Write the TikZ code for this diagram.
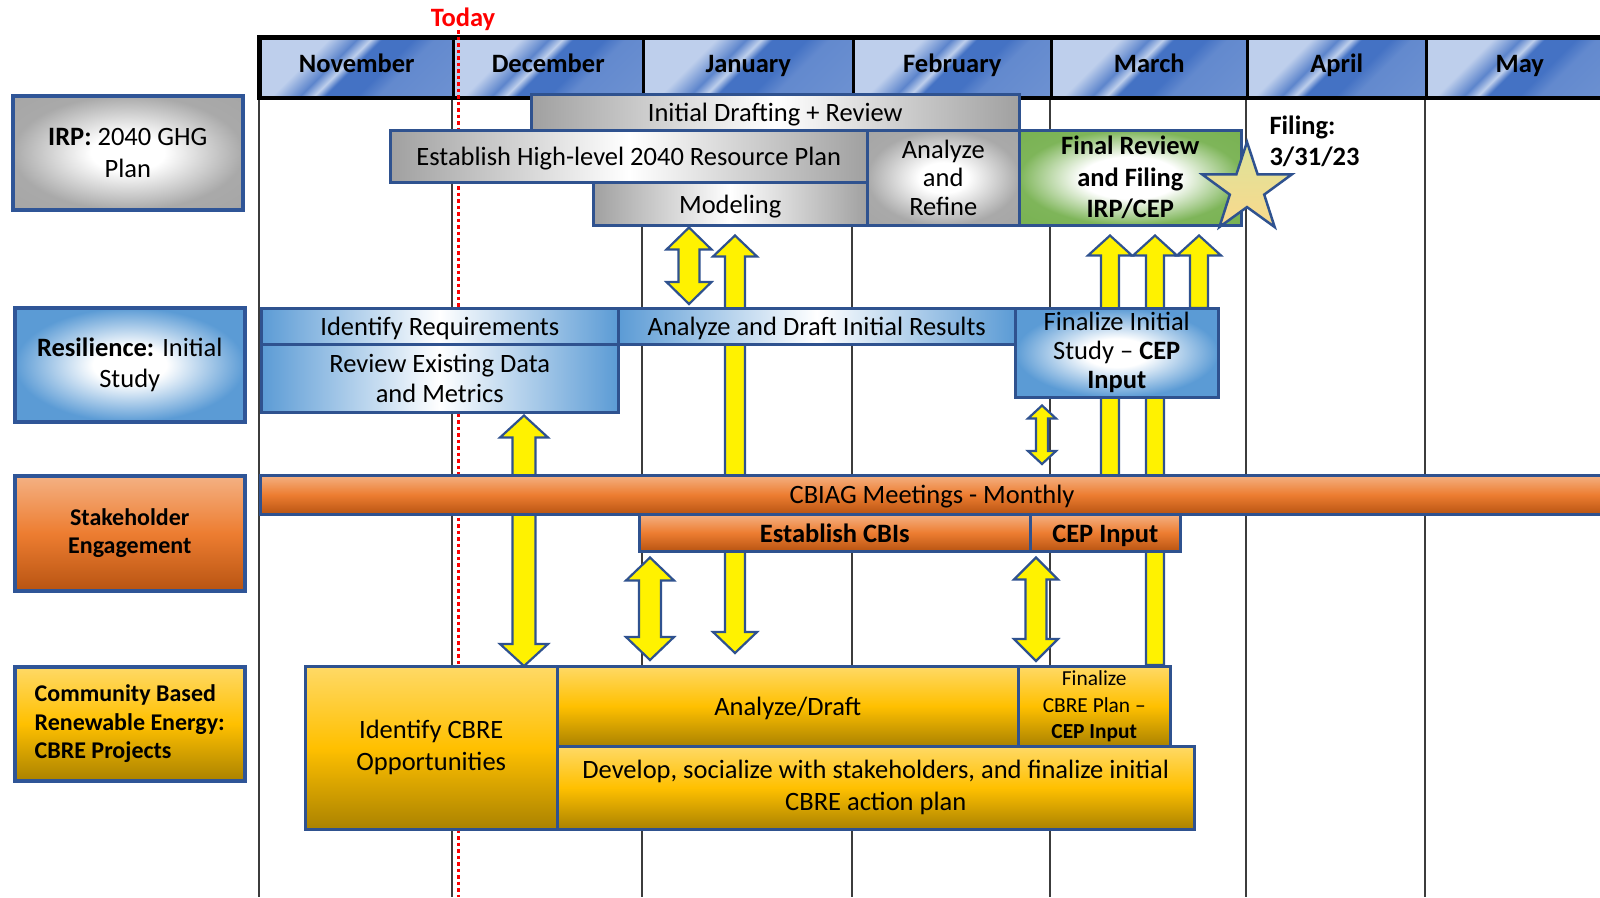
\documentclass[tikz,border=0pt]{standalone}
\usepackage{fontspec}
\setmainfont{Carlito}
\usepackage{tikz}
\usetikzlibrary{
	calc,
	positioning,
	shapes.geometric
}
\definecolor{BoxBlue}{RGB}{47,82,143}
\definecolor{LabelBlue}{RGB}{47,85,151}
\definecolor{GridGray}{RGB}{60,60,60}
\definecolor{EdgeGray}{RGB}{160,160,160}
\definecolor{EdgeBlue}{RGB}{91,155,213}
\definecolor{EdgeGreen}{RGB}{112,173,71}
\definecolor{OrangeTop}{RGB}{244,177,131}
\definecolor{OrangeMid}{RGB}{237,125,49}
\definecolor{OrangeLow}{RGB}{184,84,18}
\definecolor{GoldTop}{RGB}{255,217,102}
\definecolor{GoldMid}{RGB}{255,192,0}
\definecolor{GoldLow}{RGB}{170,130,0}
\definecolor{HdrDark}{RGB}{68,114,196}
\definecolor{HdrLight}{RGB}{190,207,236}
\definecolor{StarTop}{RGB}{220,228,154}
\definecolor{StarLow}{RGB}{250,216,140}
\definecolor{TodayRed}{RGB}{255,0,0}

% 中心白、四周着色
\pgfdeclareradialshading{glowgray}{\pgfpoint{0bp}{0bp}}{color(0bp)=(white); color(8bp)=(white); color(25bp)=(EdgeGray!90!white); color(50bp)=(EdgeGray)}
\pgfdeclareradialshading{glowblue}{\pgfpoint{0bp}{0bp}}{color(0bp)=(white); color(8bp)=(white); color(25bp)=(EdgeBlue); color(50bp)=(EdgeBlue)}
\pgfdeclareradialshading{glowgreen}{\pgfpoint{0bp}{0bp}}{color(0bp)=(white); color(11bp)=(white); color(25bp)=(EdgeGreen!90!white); color(50bp)=(EdgeGreen)}
% 表头斜向条纹
\pgfdeclarehorizontalshading{monthband}{100bp}{color(0bp)=(HdrDark!60!HdrLight); color(36bp)=(HdrDark!75!HdrLight); color(42bp)=(HdrDark); color(51bp)=(HdrDark); color(54bp)=(HdrLight); color(58bp)=(HdrDark!80!HdrLight); color(66bp)=(HdrLight); color(100bp)=(HdrLight)}

% 图层：底层网格、中层箭头、上层任务条
\pgfdeclarelayer{grid}
\pgfdeclarelayer{links}
\pgfsetlayers{grid,links,main}

\tikzset{
	bar/.style={draw=BoxBlue, line width=2.5pt, inner sep=1pt, align=center, anchor=north west, font=\fontsize{26.5}{30}\selectfont},
	oneline/.style={text height=19pt, text depth=0pt},
	graybar/.style={bar, left color=EdgeGray, right color=EdgeGray, middle color=white},
	graypatch/.style={bar, shade, shading=glowgray},
	bluebar/.style={bar, left color=EdgeBlue, right color=EdgeBlue, middle color=white},
	bluepatch/.style={bar, shade, shading=glowblue},
	greenpatch/.style={bar, shade, shading=glowgreen},
	orangebar/.style={bar, top color=OrangeTop, bottom color=OrangeLow, middle color=OrangeMid},
	goldbar/.style={bar, top color=GoldTop, bottom color=GoldLow, middle color=GoldMid},
	rowlabel/.style={draw=LabelBlue, line width=3.5pt, inner sep=2pt, align=center, anchor=north west, minimum width=230pt, minimum height=114pt, font=\fontsize{26.5}{31.5}\selectfont},
	monthcell/.style={draw=black, line width=2.5pt, shade, shading=monthband, shading angle=135, anchor=north west, minimum height=59pt, text height=16pt, text depth=5.6pt, font=\bfseries\fontsize{26.5}{30}\selectfont},
	gridline/.style={GridGray, line width=1.3pt},
	todayline/.style={TodayRed, line width=3.5pt, dash pattern=on 3.5pt off 3pt},
	yellowarr/.style={draw=BoxBlue, fill=yellow, line width=2.2pt, line join=miter}
}

% 双向块箭头：上端点、下端点、杆半宽、头半宽、头长
\newcommand{\arrboth}[5]{%
	\draw[yellowarr] let \p1=(#1), \p2=(#2) in
		(\x1,\y1) -- (\x1+#4pt,\y1-#5pt) -- (\x1+#3pt,\y1-#5pt) -- (\x1+#3pt,\y2+#5pt) -- (\x1+#4pt,\y2+#5pt)
		-- (\x1,\y2) -- (\x1-#4pt,\y2+#5pt) -- (\x1-#3pt,\y2+#5pt) -- (\x1-#3pt,\y1-#5pt) -- (\x1-#4pt,\y1-#5pt) -- cycle;}
% 向上块箭头：箭尖、尾端
\newcommand{\arrup}[5]{%
	\draw[yellowarr] let \p1=(#1), \p2=(#2) in
		(\x1,\y1) -- (\x1+#4pt,\y1-#5pt) -- (\x1+#3pt,\y1-#5pt) -- (\x1+#3pt,\y2)
		-- (\x1-#3pt,\y2) -- (\x1-#3pt,\y1-#5pt) -- (\x1-#4pt,\y1-#5pt) -- cycle;}

\begin{document}
\begin{tikzpicture}[x=1pt, y={(0pt,-1pt)}]
	\useasboundingbox (0,0) rectangle (1600,897);
	\clip (0,0) rectangle (1600,897);

	\begin{pgfonlayer}{grid}
		% 月份竖线
		\foreach \gx in {259,452,642,852,1050,1246,1425}
			\draw[gridline] (\gx,96) -- (\gx,897);
		% 表头：月份
		\foreach \xa/\xb/\mon in {259/452/November,452/642/December,642/852/January,852/1050/February,1050/1246/March,1246/1425/April,1425/1612/May}
			\node[monthcell, minimum width={(\xb-\xa)*1pt}] (\mon) at (\xa,37) {\mon};
		\draw[line width=3.5pt] (November.north west) rectangle (May.south east);
		% Today
		\node[TodayRed, font=\bfseries\fontsize{26.5}{30}\selectfont] (today) at (463,19) {Today};
		\coordinate (todaytop) at (458.5,30);
		\coordinate (todaybot) at (458.5,897);
		\draw[todayline] (todaytop) -- (todaybot);
	\end{pgfonlayer}

	% IRP 行
	\node[graybar, oneline, minimum width=488pt, minimum height=36pt] (draft) at (530,93) {Initial Drafting + Review};
	\node[graybar, oneline, minimum width=477pt, minimum height=52pt] (resplan) at (389,129) {Establish High-level 2040 Resource Plan};
	\node[graybar, oneline, minimum width=274pt, minimum height=43pt] (modeling) at (592,181) {Modeling};
	\node[graypatch, minimum width=152pt, minimum height=95pt, font=\fontsize{26.5}{28.5}\selectfont] (refine) at (866,129) {Analyze\\and\\Refine};
	\node[greenpatch, minimum width=222pt, minimum height=95pt, font=\bfseries\fontsize{26.5}{31.5}\selectfont] (final) at (1018,129) {Final Review\\and Filing\\IRP/CEP};

	% Resilience 行
	\node[bluebar, oneline, minimum width=357pt, minimum height=36pt] (identify) at (260,307) {Identify Requirements};
	\node[bluebar, minimum width=357pt, minimum height=68pt] (review) at (260,343) {Review Existing Data\\and Metrics};
	\node[bluebar, oneline, minimum width=397pt, minimum height=36pt] (drafting) at (617,307) {Analyze and Draft Initial Results};
	\node[bluepatch, minimum width=203pt, minimum height=89pt, font=\fontsize{26.5}{29}\selectfont] (finstudy) at (1014,307) {Finalize Initial\\Study – \textbf{CEP}\\\textbf{Input}};

	% Stakeholder 行
	\node[orangebar, minimum width=1360pt, minimum height=39pt] (cbiag) at (259,474) {};
	\node[oneline, font=\fontsize{26.5}{30}\selectfont] (cbiagtxt) at (932,493.5) {CBIAG Meetings - Monthly};
	\node[orangebar, oneline, minimum width=391pt, minimum height=37pt, font=\bfseries\fontsize{26.5}{30}\selectfont] (cbis) at (638,513) {Establish CBIs};
	\node[orangebar, oneline, minimum width=150pt, minimum height=37pt, font=\bfseries\fontsize{26.5}{30}\selectfont] (cepin) at (1029,513) {CEP Input};

	% CBRE 行
	\node[goldbar, minimum width=252pt, minimum height=163pt, font=\fontsize{26.5}{32}\selectfont] (oppty) at (304,665) {Identify CBRE\\Opportunities};
	\node[goldbar, oneline, minimum width=461pt, minimum height=80pt] (anadraft) at (556,665) {Analyze/Draft};
	\node[goldbar, minimum width=152pt, minimum height=80pt, font=\fontsize{21.4}{26.5}\selectfont] (finplan) at (1017,665) {Finalize\\CBRE Plan –\\\textbf{CEP Input}};
	\node[goldbar, minimum width=637pt, minimum height=83pt, font=\fontsize{26.5}{32}\selectfont] (develop) at (556,745) {Develop, socialize with stakeholders, and finalize initial\\CBRE action plan};

	% 申报星标
	\node[star, star points=5, star point ratio=2.6, minimum size=94pt, inner sep=0pt, draw=BoxBlue, line width=2.5pt, top color=StarTop, bottom color=StarLow] (filestar) at (1247,189) {};
	\node[anchor=west, align=left, font=\bfseries\fontsize{26.5}{31}\selectfont] (filing) at (1266,141.5) {Filing:\\3/31/23};

	% 左侧行标题
	\node[rowlabel, shade, shading=glowgray] (irp) at (11,94) {\textbf{IRP:} 2040 GHG\\Plan};
	\node[rowlabel, shade, shading=glowblue] (resil) at (13,306) {\textbf{Resilience:} Initial\\Study};
	\node[rowlabel, top color=OrangeTop, bottom color=OrangeLow, middle color=OrangeMid, minimum height=115pt, font=\bfseries\fontsize{24}{28.5}\selectfont] (stake) at (13,474) {Stakeholder\\Engagement};
	\node[rowlabel, top color=GoldTop, bottom color=GoldLow, middle color=GoldMid, align=left, font=\bfseries\fontsize{24}{28.5}\selectfont] (cbre) at (13,665) {Community Based\\Renewable Energy:\\CBRE Projects};

	% 块箭头端点
	\coordinate (a1t) at ($(689,0 |- modeling.south)+(0,1)$);
	\coordinate (a1b) at ($(689,0 |- drafting.north)+(0,-3)$);
	\coordinate (a2t) at ($(735,0 |- modeling.south)+(0,9)$);
	\coordinate (a2b) at ($(735,0 |- anadraft.north)+(0,-12)$);
	\coordinate (a3t) at ($(524,0 |- review.south)+(0,2)$);
	\coordinate (a3b) at ($(524,0 |- oppty.north)+(0,1)$);
	\coordinate (a4t) at ($(650,0 |- cbis.south)+(0,5)$);
	\coordinate (a4b) at ($(650,0 |- anadraft.north)+(0,-5)$);
	\coordinate (a5t) at ($(1036,0 |- cepin.south)+(0,5)$);
	\coordinate (a5b) at ($(1036,0 |- finplan.north)+(0,-4)$);
	\coordinate (a6t) at ($(1042,0 |- finstudy.south)+(0,7)$);
	\coordinate (a6b) at ($(1042,0 |- cbiag.north)+(0,-10)$);
	\coordinate (a7t) at ($(1110,0 |- final.south)+(0,9)$);
	\coordinate (a7b) at ($(1110,0 |- cbiag.north)+(0,4)$);
	\coordinate (a8t) at ($(1155,0 |- final.south)+(0,9)$);
	\coordinate (a8b) at (1155,0 |- finplan.north);
	\coordinate (a9t) at ($(1199,0 |- final.south)+(0,9)$);
	\coordinate (a9b) at ($(1199,0 |- finstudy.north)+(0,1)$);

	% 块箭头（在任务条下面）
	\begin{pgfonlayer}{links}
		\arrboth{a1t}{a1b}{10.5}{22.5}{22}
		\arrboth{a2t}{a2b}{10}{22}{21}
		\arrboth{a3t}{a3b}{11.5}{24}{22}
		\arrboth{a4t}{a4b}{11}{24}{23}
		\arrboth{a5t}{a5b}{10.5}{22}{22}
		\arrboth{a6t}{a6b}{6}{14}{13}
		\arrup{a7t}{a7b}{9}{22}{20}
		\arrup{a8t}{a8b}{9}{22}{20}
		\arrup{a9t}{a9b}{9}{22}{20}
	\end{pgfonlayer}
\end{tikzpicture}
\end{document}
